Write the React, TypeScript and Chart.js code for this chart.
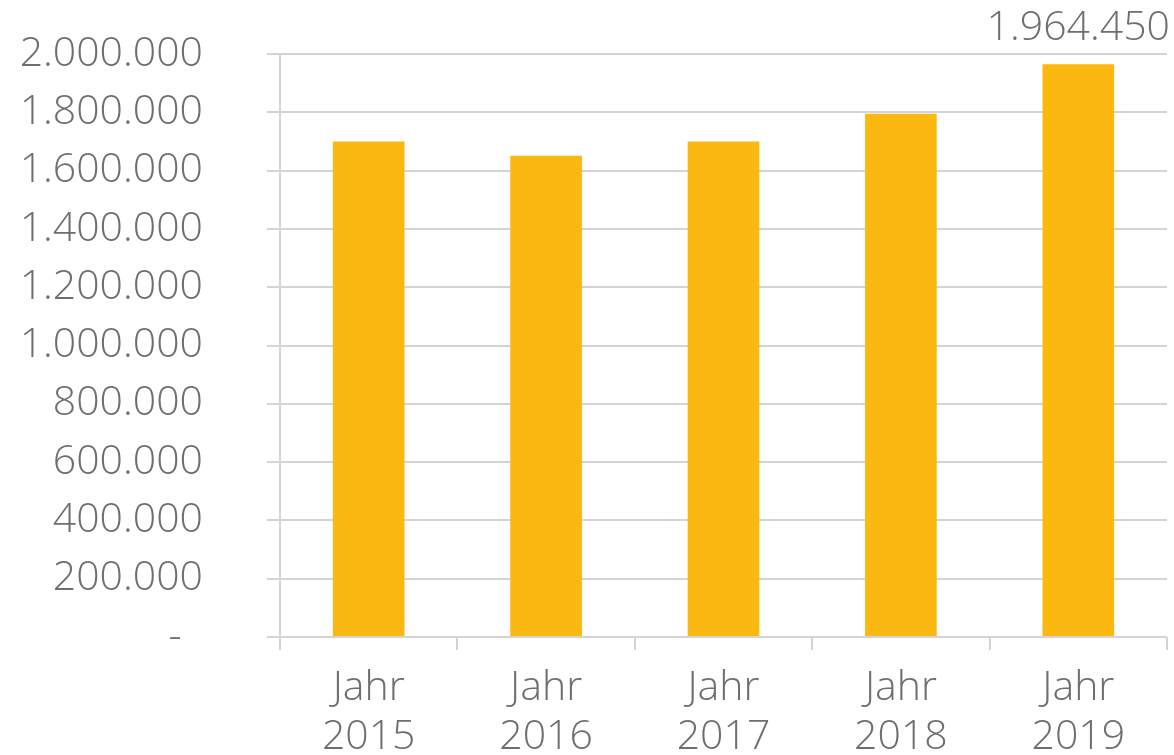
import React, { useEffect, useRef } from "react";
import { Chart, registerables } from "chart.js";

Chart.register(...registerables);

const categories: string[][] = [
  ["Jahr", "2015"],
  ["Jahr", "2016"],
  ["Jahr", "2017"],
  ["Jahr", "2018"],
  ["Jahr", "2019"],
];
const values: number[] = [1700000, 1651000, 1700000, 1795000, 1964450];
const shownLabels: (string | null)[] = [null, null, null, null, "1.964.450"];

const yMin = 0;
const yMax = 2000000;
const yStep = 200000;

const FONT = "'Open Sans', 'DejaVu Sans', sans-serif";
const TEXT_COLOR = "#6e6e6e";
const GRID_COLOR = "#d4d4d4";
const BAR_COLOR = "#fbb811";

function formatDE(v: number): string {
  if (v === 0) return "-  ";
  return Math.round(v)
    .toString()
    .replace(/\B(?=(\d{3})+(?!\d))/g, ".");
}

const valueLabelPlugin = {
  id: "valueLabels",
  afterDatasetsDraw(chart: any) {
    const meta = chart.getDatasetMeta(0);
    const ctx = chart.ctx;
    ctx.save();
    ctx.font = `300 41px ${FONT}`;
    ctx.fillStyle = TEXT_COLOR;
    ctx.textAlign = "center";
    ctx.textBaseline = "alphabetic";
    meta.data.forEach((bar: any, i: number) => {
      const label = shownLabels[i];
      if (!label) return;
      ctx.fillText(label, bar.x, bar.y - 24);
    });
    ctx.restore();
  },
};

export default function App() {
  const canvasRef = useRef<HTMLCanvasElement | null>(null);

  useEffect(() => {
    if (!canvasRef.current) return;
    const chart = new Chart(canvasRef.current, {
      type: "bar",
      data: {
        labels: categories,
        datasets: [
          {
            data: values,
            backgroundColor: BAR_COLOR,
            borderWidth: 0,
            barPercentage: 1,
            categoryPercentage: 0.404,
          },
        ],
      },
      options: {
        responsive: false,
        animation: false,
        layout: { padding: { top: 54, right: 7, left: 0, bottom: 0 } },
        plugins: {
          legend: { display: false },
          tooltip: { enabled: false },
        },
        scales: {
          x: {
            grid: {
              display: true,
              drawOnChartArea: false,
              drawTicks: true,
              tickLength: 13,
              color: GRID_COLOR,
              lineWidth: 2,
              offset: true,
            },
            border: { display: false },
            ticks: {
              color: TEXT_COLOR,
              font: { family: FONT, size: 41, weight: "300", lineHeight: 1.2 },
              padding: 14,
              maxRotation: 0,
              autoSkip: false,
            },
            afterFit(scale: any) {
              scale.height = 118;
            },
          },
          y: {
            min: yMin,
            max: yMax,
            grid: {
              color: GRID_COLOR,
              lineWidth: 2,
              tickLength: 13,
              drawTicks: true,
            },
            border: { display: true, color: GRID_COLOR, width: 2 },
            ticks: {
              stepSize: yStep,
              color: TEXT_COLOR,
              font: { family: FONT, size: 41, weight: "300" },
              padding: 64,
              callback: (v: any) => formatDE(Number(v)),
            },
            afterFit(scale: any) {
              scale.width = 280;
              scale.paddingTop = 0;
              scale.paddingBottom = 0;
            },
          },
        },
      },
      plugins: [valueLabelPlugin],
    });
    return () => chart.destroy();
  }, []);

  return (
    <div
      style={{
        position: "fixed",
        left: 0,
        top: 0,
        width: 1174,
        height: 755,
        overflow: "hidden",
        background: "#fff",
      }}
    >
      <canvas
        ref={canvasRef}
        width={1174}
        height={755}
        style={{ display: "block", width: 1174, height: 755 }}
      />
    </div>
  );
}
